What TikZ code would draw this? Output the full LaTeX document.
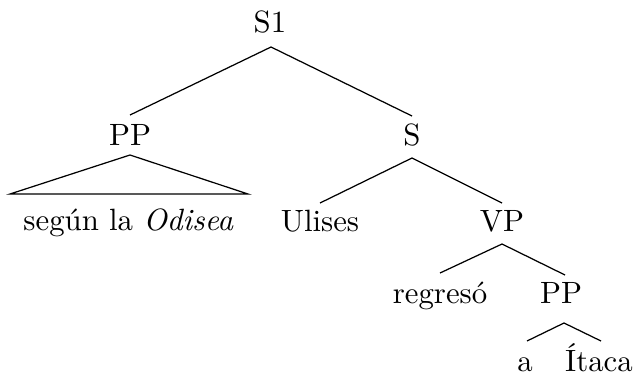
\documentclass[tikz,border=0pt]{standalone}
\begin{document}
\begin{tikzpicture}[x=0.3247pt,y=-0.3247pt,
  lbl/.style={anchor=base,inner sep=0pt,font=\fontsize{10pt}{12pt}\selectfont},
  edge/.style={line width=0.4pt}]
\useasboundingbox (0,0) rectangle (636,375);
% labels
\node[lbl] (S1) at (270,33) {S1};
\node[lbl] (PP1) at (130,145) {PP};
\node[lbl] (S) at (412,145) {S};
\node[lbl] (seg) at (128.5,230) {según la \textit{Odisea}};
\node[lbl] (Ul) at (320,231) {Ulises};
\node[lbl] (VP) at (502,231) {VP};
\node[lbl] (reg) at (440,303) {regresó};
\node[lbl] (PP2) at (561,303) {PP};
\node[lbl] (a) at (525,371) {a};
\node[lbl] (It) at (599,371) {Ítaca};
% edge end points
\coordinate (S1b) at (271,47);
\coordinate (PP1t) at (130,115);
\coordinate (St) at (412,116);
\coordinate (PP1b) at (130,155);
\coordinate (triL) at (10,194);
\coordinate (triR) at (248,194);
\coordinate (Sb) at (412,158);
\coordinate (Ult) at (320,203);
\coordinate (VPt) at (502,203);
\coordinate (VPb) at (502,244);
\coordinate (regt) at (440,273);
\coordinate (PP2t) at (565,275);
\coordinate (PP2b) at (564,323);
\coordinate (at) at (527,341);
\coordinate (Itt) at (601,341);
% edges
\draw[edge] (PP1t) -- (S1b) -- (St);
\draw[edge] (PP1b) -- (triL) -- (triR) -- cycle;
\draw[edge] (Ult) -- (Sb) -- (VPt);
\draw[edge] (regt) -- (VPb) -- (PP2t);
\draw[edge] (at) -- (PP2b) -- (Itt);
\end{tikzpicture}
\end{document}
